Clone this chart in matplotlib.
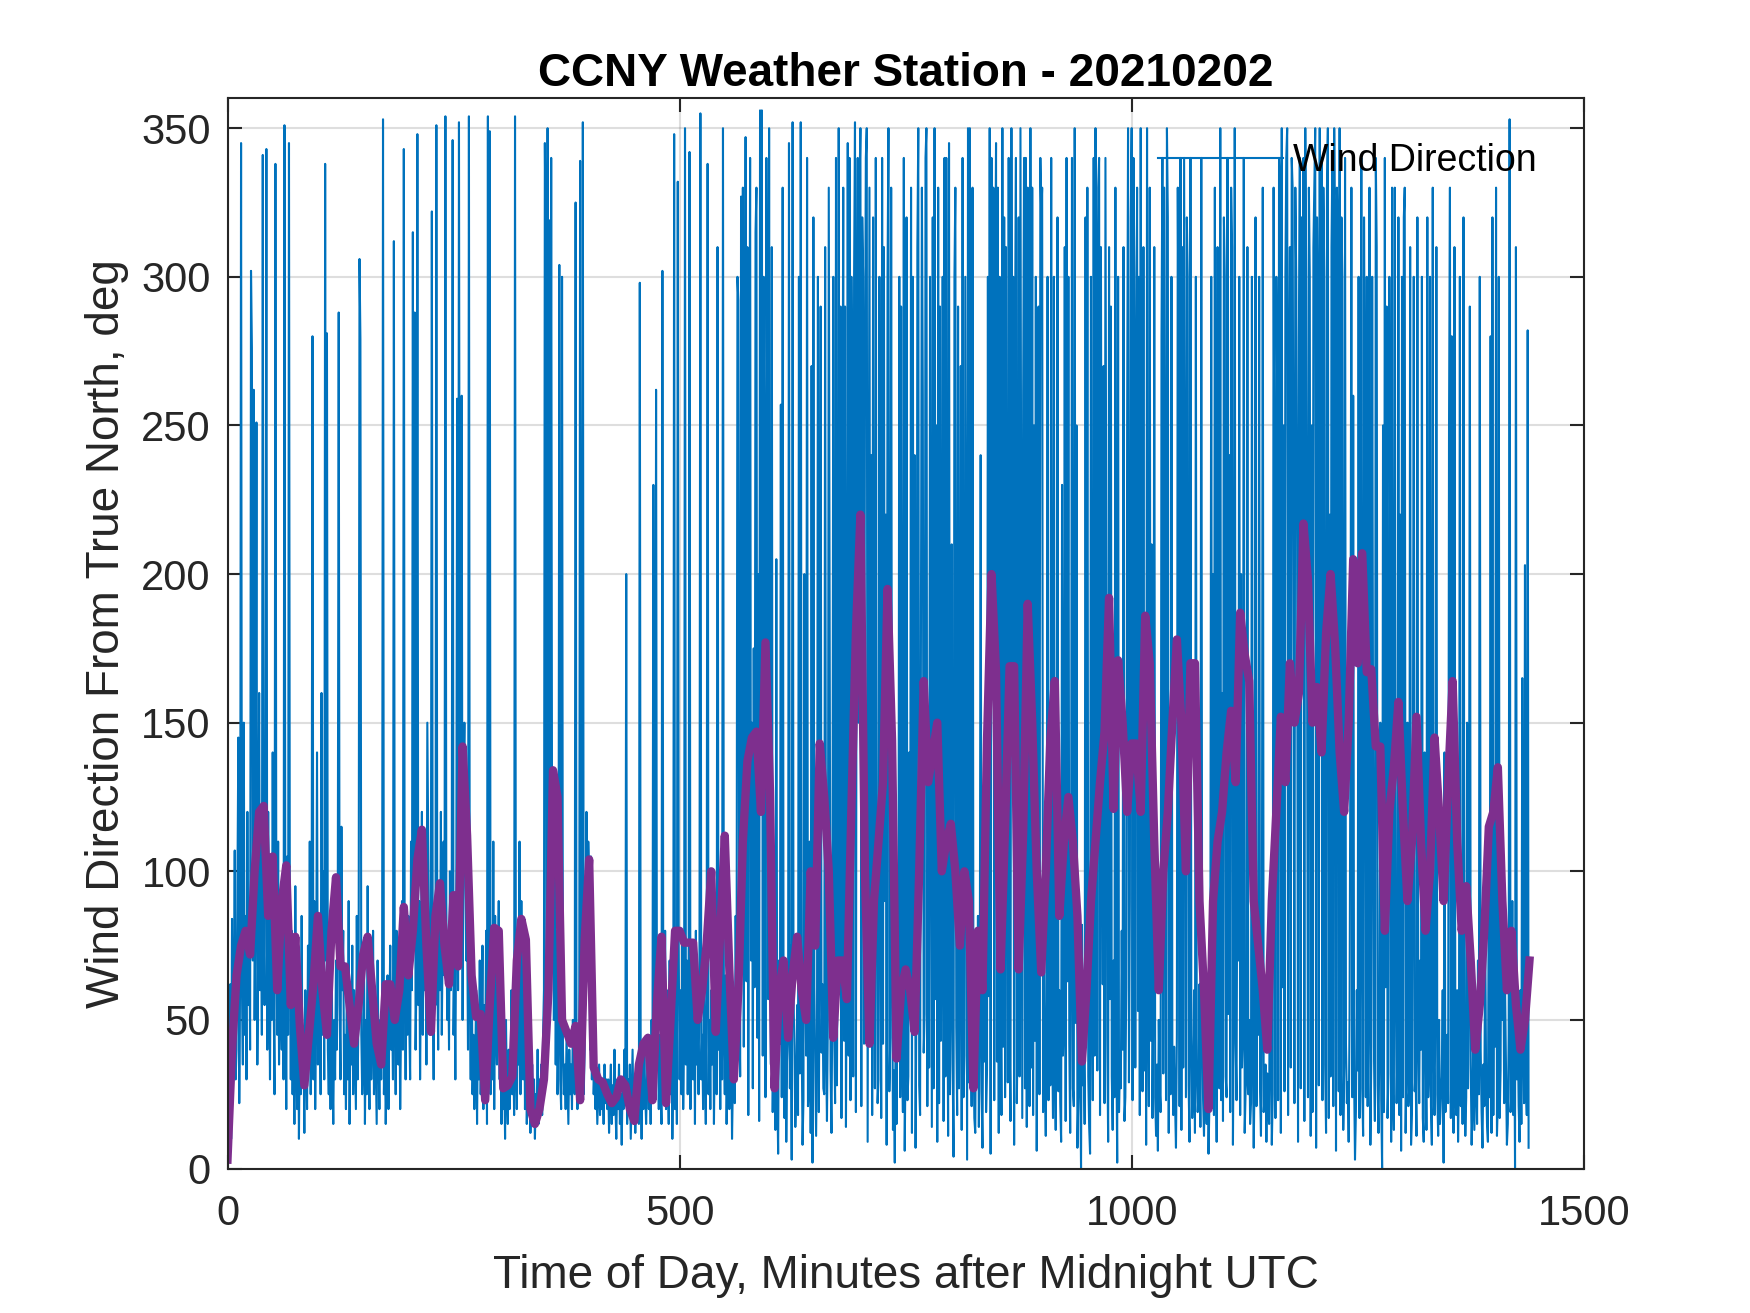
import numpy as np
import matplotlib
matplotlib.use('Agg')
import matplotlib.pyplot as plt

plt.rcParams['font.family'] = ['Liberation Sans', 'DejaVu Sans']

# one reading per minute (deg from true north)
dir_00_05 = [
    3, 6, 22, 62, 10, 84, 28, 55, 107, 30,
    40, 96, 145, 22, 70, 345, 60, 35, 150, 45,
    85, 30, 120, 55, 90, 40, 302, 276, 70, 262,
    50, 95, 251, 35, 75, 160, 60, 110, 45, 341,
    80, 55, 130, 343, 40, 120, 70, 30, 95, 50,
    140, 60, 25, 338, 85, 45, 110, 35, 75, 55,
    40, 90, 30, 351, 65, 20, 105, 45, 345, 70,
    30, 80, 25, 60, 15, 95, 40, 20, 70, 10,
    50, 25, 85, 30, 45, 12, 60, 35, 20, 75,
    40, 110, 25, 65, 280, 30, 90, 20, 55, 140,
    35, 80, 60, 25, 160, 45, 100, 30, 338, 70,
    281, 40, 25, 60, 20, 85, 35, 15, 50, 30,
    70, 40, 95, 288, 55, 30, 115, 60, 80, 25,
    45, 20, 65, 30, 90, 15, 50, 35, 75, 25,
    60, 40, 20, 85, 30, 55, 306, 279, 45, 25,
    35, 70, 15, 50, 25, 95, 40, 20, 60, 30,
    45, 80, 25, 55, 35, 15, 70, 40, 20, 50,
    30, 60, 353, 25, 45, 15, 35, 65, 20, 50,
    75, 40, 60, 30, 312, 55, 25, 80, 45, 35,
    65, 20, 50, 90, 40, 343, 60, 30, 70, 45,
    85, 50, 30, 110, 60, 315, 75, 288, 40, 65,
    348, 55, 90, 30, 70, 120, 45, 80, 60, 100,
    35, 150, 110, 70, 45, 90, 322, 60, 30, 85,
    55, 351, 70, 40, 95, 60, 120, 45, 80, 110,
    65, 354, 90, 50, 75, 40, 100, 60, 85, 346,
    45, 70, 30, 90, 259, 60, 352, 115, 80, 260,
    50, 130, 150, 95, 70, 85, 40, 354, 60, 30,
    80, 25, 45, 20, 35, 60, 15, 50, 30, 70,
    25, 45, 75, 20, 55, 35, 80, 15, 354, 40,
    349, 25, 60, 30, 110, 20, 85, 45, 35, 65,
    90, 30, 55, 15, 40, 20, 35, 10, 50, 25,
    15, 40, 20, 30, 60, 25, 45, 18, 354, 30,
    20, 50, 35, 110, 25, 90, 40, 30, 75, 20,
    45, 15, 30, 20, 40, 12, 25, 35, 18, 30,
    10, 25, 20, 40, 15, 30, 22, 35, 18, 45,
    60, 345, 304, 60, 350, 90, 319, 120, 340, 100,
]

dir_06_11 = [
    130, 50, 120, 35, 80, 25, 45, 304, 30, 20,
    300, 40, 25, 35, 20, 45, 30, 15, 40, 25,
    35, 20, 50, 30, 25, 325, 40, 20, 30, 45,
    339, 30, 60, 352, 25, 40, 80, 120, 90, 110,
    100, 40, 105, 30, 60, 25, 35, 20, 30, 15,
    25, 35, 18, 30, 20, 28, 15, 35, 22, 30,
    20, 30, 12, 25, 35, 15, 28, 18, 40, 22,
    10, 30, 20, 35, 15, 25, 8, 30, 20, 40,
    25, 200, 15, 30, 20, 35, 10, 25, 40, 18,
    30, 12, 25, 35, 20, 15, 298, 28, 10, 35,
    20, 40, 25, 15, 30, 45, 20, 35, 15, 50,
    30, 230, 40, 25, 262, 35, 55, 20, 45, 30,
    15, 302, 40, 25, 80, 20, 60, 35, 15, 70,
    25, 45, 10, 30, 348, 20, 50, 15, 332, 75,
    30, 60, 25, 80, 20, 45, 350, 35, 70, 25,
    55, 342, 20, 75, 40, 30, 60, 15, 80, 35,
    50, 25, 70, 355, 30, 45, 20, 65, 35, 15,
    75, 338, 25, 50, 20, 60, 35, 80, 15, 45,
    70, 25, 310, 40, 60, 20, 75, 30, 350, 45,
    25, 65, 15, 40, 80, 20, 35, 55, 10, 30,
    60, 22, 85, 45, 300, 292, 58, 31, 327, 70,
    330, 41, 180, 347, 63, 310, 18, 212, 340, 70,
    150, 27, 175, 61, 315, 330, 44, 200, 16, 356,
    140, 356, 38, 300, 210, 24, 340, 240, 57, 350,
    80, 35, 310, 19, 62, 45, 13, 205, 29, 5,
    70, 42, 257, 24, 330, 51, 17, 60, 9, 36,
    45, 345, 27, 75, 3, 352, 58, 41, 14, 25,
    55, 18, 300, 32, 352, 46, 8, 23, 200, 65,
    38, 340, 21, 29, 110, 12, 270, 2, 320, 61,
    35, 11, 44, 300, 19, 80, 290, 39, 62, 27,
    25, 310, 42, 16, 50, 330, 180, 33, 12, 60,
    300, 47, 22, 340, 28, 90, 350, 59, 290, 17,
    200, 330, 43, 290, 14, 90, 345, 38, 340, 23,
    300, 250, 31, 300, 352, 19, 260, 340, 150, 330,
    350, 21, 320, 300, 42, 260, 340, 350, 9, 180,
    330, 58, 240, 18, 320, 90, 27, 340, 110, 22,
]

dir_12_17 = [
    30, 300, 100, 17, 340, 42, 310, 90, 220, 8,
    300, 350, 26, 44, 330, 80, 13, 33, 2, 50,
    15, 62, 37, 300, 24, 290, 47, 19, 340, 6,
    41, 320, 23, 31, 140, 58, 330, 12, 300, 45,
    240, 7, 61, 310, 350, 28, 18, 190, 330, 260,
    39, 52, 340, 350, 21, 130, 34, 300, 160, 14,
    320, 27, 350, 57, 250, 9, 330, 22, 290, 43,
    110, 300, 16, 340, 31, 340, 80, 11, 345, 25,
    60, 210, 35, 4, 300, 330, 48, 18, 290, 27,
    100, 270, 13, 340, 24, 38, 300, 150, 3, 350,
    29, 350, 63, 21, 330, 44, 17, 12, 65, 32,
    85, 14, 51, 240, 26, 7, 70, 36, 130, 19,
    33, 300, 58, 350, 5, 340, 180, 330, 23, 290,
    345, 36, 330, 12, 300, 64, 18, 350, 41, 320,
    24, 310, 140, 29, 340, 45, 16, 350, 150, 300,
    8, 280, 340, 22, 53, 320, 31, 350, 180, 17,
    260, 340, 27, 340, 14, 330, 300, 21, 350, 34,
    330, 18, 250, 43, 300, 6, 130, 290, 25, 340,
    320, 330, 19, 90, 32, 11, 57, 300, 23, 110,
    28, 340, 46, 17, 300, 34, 13, 70, 320, 26,
    60, 22, 9, 230, 38, 51, 310, 16, 340, 63,
    300, 42, 12, 80, 340, 27, 21, 350, 49, 250,
    7, 24, 58, 35, 0, 82, 28, 45, 15, 320,
    60, 330, 31, 14, 5, 300, 70, 23, 340, 38,
    350, 300, 33, 330, 340, 18, 310, 150, 62, 270,
    22, 340, 200, 44, 9, 310, 57, 290, 31, 13,
    70, 24, 330, 45, 2, 300, 19, 36, 27, 80,
    40, 310, 16, 24, 61, 250, 350, 29, 90, 320,
    350, 23, 340, 300, 34, 260, 330, 53, 300, 18,
    350, 70, 26, 310, 33, 180, 8, 350, 58, 21,
    330, 43, 210, 17, 62, 310, 24, 11, 35, 6,
    50, 27, 19, 280, 340, 32, 330, 170, 23, 350,
    320, 12, 150, 25, 300, 36, 18, 41, 22, 7,
    45, 330, 260, 21, 340, 13, 310, 34, 340, 180,
    24, 320, 300, 28, 9, 340, 45, 17, 26, 60,
    12, 300, 33, 19, 25, 62, 14, 340, 42, 23,
]

dir_18_23 = [
    11, 33, 25, 15, 37, 5, 22, 60, 300, 28,
    200, 18, 330, 62, 9, 310, 41, 27, 350, 23,
    160, 16, 320, 300, 31, 24, 340, 52, 240, 19,
    330, 310, 8, 61, 350, 42, 23, 130, 70, 300,
    18, 200, 34, 44, 340, 12, 26, 31, 310, 25,
    50, 15, 22, 300, 39, 7, 33, 320, 21, 60,
    45, 300, 26, 11, 58, 330, 19, 24, 35, 9,
    32, 21, 15, 80, 43, 8, 25, 330, 200, 17,
    300, 260, 23, 340, 330, 12, 350, 61, 250, 26,
    300, 340, 350, 18, 260, 310, 34, 340, 330, 200,
    22, 330, 300, 210, 9, 280, 340, 27, 320, 190,
    340, 16, 350, 300, 170, 24, 330, 300, 11, 250,
    19, 310, 330, 350, 7, 320, 290, 28, 350, 160,
    340, 23, 330, 300, 35, 12, 330, 350, 17, 220,
    31, 310, 340, 21, 350, 300, 6, 330, 310, 26,
    350, 18, 320, 300, 13, 34, 340, 42, 22, 29,
    9, 52, 150, 330, 24, 260, 31, 3, 19, 60,
    33, 300, 17, 90, 340, 27, 11, 320, 230, 24,
    300, 21, 58, 330, 8, 36, 300, 140, 41, 16,
    340, 310, 28, 12, 45, 150, 23, 0, 250, 19,
    340, 61, 290, 17, 32, 300, 200, 9, 330, 25,
    13, 330, 70, 22, 41, 320, 18, 220, 6, 300,
    24, 320, 330, 12, 38, 150, 21, 27, 310, 8,
    19, 120, 300, 26, 33, 11, 320, 45, 22, 70,
    40, 300, 17, 9, 140, 52, 13, 320, 24, 35,
    300, 21, 8, 330, 42, 18, 60, 310, 25, 11,
    50, 15, 23, 31, 60, 2, 140, 19, 27, 45,
    22, 250, 330, 17, 280, 41, 12, 310, 26, 18,
    60, 9, 32, 300, 21, 80, 15, 320, 38, 11,
    24, 150, 27, 60, 290, 35, 8, 22, 50, 13,
    30, 45, 15, 70, 25, 300, 40, 19, 7, 35,
    21, 80, 32, 15, 9, 110, 24, 280, 12, 320,
    18, 120, 41, 330, 11, 23, 300, 17, 33, 110,
    50, 80, 22, 60, 35, 8, 15, 45, 353, 19,
    25, 90, 18, 60, 0, 310, 30, 50, 21, 9,
    60, 15, 165, 40, 22, 203, 30, 18, 282, 7,
]

# smoothed direction, one value every 5 minutes
dir_smooth = [
    3, 40, 65, 75, 80, 72, 100, 120, 122, 85, 105, 60,
    90, 102, 55, 78, 48, 28, 45, 62, 85, 60, 45, 80,
    98, 68, 68, 55, 42, 55, 72, 78, 60, 42, 35, 62,
    62, 50, 60, 88, 65, 80, 104, 114, 75, 46, 85, 96,
    75, 62, 92, 68, 142, 112, 65, 51, 52, 23, 55, 81,
    80, 27, 28, 31, 70, 84, 77, 20, 15, 20, 30, 60,
    134, 125, 50, 46, 42, 48, 23, 77, 104, 34, 30, 29,
    25, 22, 24, 30, 28, 20, 16, 35, 42, 44, 23, 56,
    78, 22, 50, 80, 80, 76, 76, 76, 50, 60, 76, 100,
    46, 80, 112, 67, 30, 60, 110, 137, 145, 147, 120, 177,
    127, 27, 60, 70, 44, 65, 78, 60, 50, 100, 75, 143,
    125, 100, 44, 70, 70, 57, 121, 180, 220, 100, 42, 90,
    110, 130, 195, 144, 37, 60, 67, 60, 46, 100, 164, 130,
    140, 150, 100, 110, 116, 100, 75, 100, 90, 27, 80, 60,
    144, 200, 167, 67, 115, 169, 169, 67, 113, 190, 150, 100,
    66, 100, 144, 164, 85, 110, 125, 110, 85, 36, 60, 90,
    110, 130, 147, 192, 121, 171, 150, 120, 143, 143, 120, 186,
    170, 110, 60, 100, 120, 150, 178, 150, 100, 170, 170, 90,
    60, 20, 90, 110, 120, 140, 154, 130, 187, 173, 164, 90,
    75, 60, 40, 90, 120, 152, 130, 170, 150, 160, 217, 198,
    150, 162, 140, 180, 200, 176, 140, 120, 150, 205, 170, 207,
    167, 168, 142, 142, 80, 120, 135, 157, 120, 90, 110, 152,
    110, 80, 100, 145, 120, 90, 130, 164, 110, 80, 95, 70,
    40, 55, 80, 115, 120, 135, 90, 60, 80, 55, 40, 50,
    70,
]

x_ticks = [0, 500, 1000, 1500]
y_ticks = [0, 50, 100, 150, 200, 250, 300, 350]

wind_dir = dir_00_05 + dir_06_11 + dir_12_17 + dir_18_23
minutes = np.arange(len(wind_dir))
smooth_minutes = np.arange(len(dir_smooth)) * 5

fig = plt.figure(figsize=(1750 / 300, 1313 / 300), dpi=300)
ax = fig.add_axes([0.13, 0.11, 0.775, 0.815])

line_raw, = ax.plot(minutes, wind_dir, color='#0072BD', lw=0.5, label='Wind Direction')
ax.plot(smooth_minutes, dir_smooth, color='#7E2F8E', lw=2)

ax.set_xlim(0, 1500)
ax.set_ylim(0, 360)
ax.set_xticks(x_ticks)
ax.set_yticks(y_ticks)
ax.grid(True, color='#262626', alpha=0.15, lw=0.5)
ax.set_axisbelow(True)
ax.tick_params(direction='in', length=3.3, width=0.5, top=True, right=True,
               colors='#262626', labelsize=10)
ax.tick_params(axis='x', pad=6)
ax.tick_params(axis='y', pad=4)
for sp in ax.spines.values():
    sp.set_linewidth(0.5)
    sp.set_color('#262626')

ax.set_xlabel('Time of Day, Minutes after Midnight UTC', fontsize=11, color='#262626', labelpad=5)
ax.set_ylabel('Wind Direction From True North, deg', fontsize=11, color='#262626', labelpad=3)
ax.set_title('CCNY Weather Station - 20210202', fontsize=11, fontweight='bold', pad=3)

ax.legend(handles=[line_raw], loc='center left', bbox_to_anchor=(0.686, 0.9416),
          frameon=False, fontsize=9, handlelength=3.33, handletextpad=0.27,
          borderpad=0, borderaxespad=0)

fig.savefig('out.png', dpi=300)
plt.close(fig)
